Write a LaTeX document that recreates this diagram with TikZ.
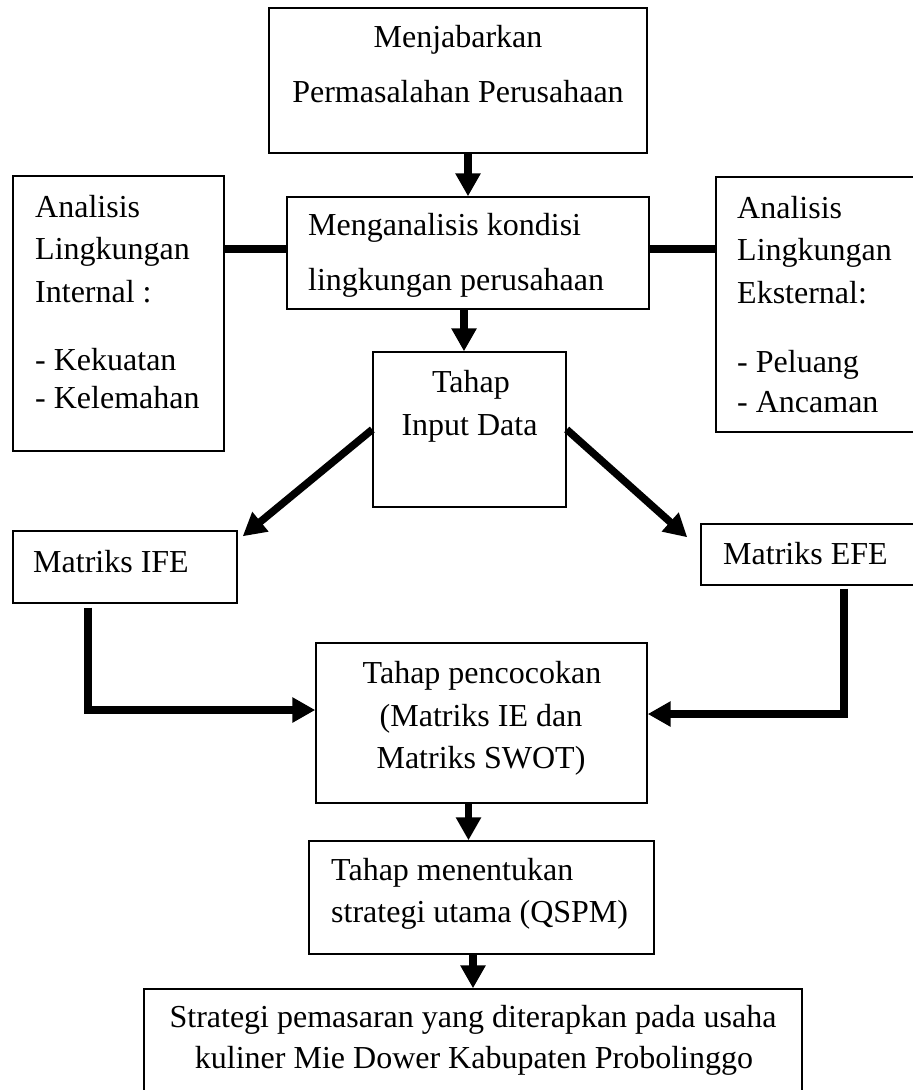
\documentclass[tikz,border=0pt]{standalone}
\usepackage{fontspec}
\setmainfont{Liberation Serif}
\usetikzlibrary{arrows.meta}
\begin{document}
\begin{tikzpicture}[x=1pt,y=-1pt,
  box/.style={draw=black, line width=1.4pt, rectangle, inner sep=0pt, fill=none},
  txt/.style={font=\fontsize{32}{38}\selectfont, inner sep=0pt},
  link/.style={line width=8pt},
  flowarrow/.style={line width=7.5pt, line join=miter, -{Triangle[width=24pt,length=23pt]}}]
\useasboundingbox (0,0) rectangle (913,1090);
\clip (0,0) rectangle (913,1090);
% boxes
\node[box, minimum width=378pt, minimum height=145pt] (top) at (458,80.5) {};
\node[box, minimum width=362pt, minimum height=112pt] (mid) at (468,253) {};
\node[box, minimum width=211pt, minimum height=275pt] (intl) at (118.5,313.5) {};
\node[box, minimum width=204pt, minimum height=255pt] (extl) at (818,304.5) {};
\node[box, minimum width=193pt, minimum height=155pt] (input) at (469.5,429.5) {};
\node[box, minimum width=224pt, minimum height=72pt] (ife) at (125,567) {};
\node[box, minimum width=219pt, minimum height=61pt] (efe) at (810.5,554.5) {};
\node[box, minimum width=331pt, minimum height=160pt] (match) at (481.5,723) {};
\node[box, minimum width=345pt, minimum height=113pt] (qspm) at (481.5,897.5) {};
\node[box, minimum width=658pt, minimum height=111pt] (final) at (473,1044.5) {};
% texts
\node[txt, anchor=base] (topA) at (458,47) {Menjabarkan};
\node[txt, anchor=base] (topB) at (458,102) {Permasalahan Perusahaan};
\node[txt, anchor=base west] (midA) at (308,235) {Menganalisis kondisi};
\node[txt, anchor=base west] (midB) at (308,290) {lingkungan perusahaan};
\node[txt, anchor=base west] (inA) at (35,217) {Analisis};
\node[txt, anchor=base west] (inB) at (35,259) {Lingkungan};
\node[txt, anchor=base west] (inC) at (35,302) {Internal :};
\node[txt, anchor=base west] (inD) at (35,370) {- Kekuatan};
\node[txt, anchor=base west] (inE) at (35,408) {- Kelemahan};
\node[txt, anchor=base west] (exA) at (737,218) {Analisis};
\node[txt, anchor=base west] (exB) at (737,260) {Lingkungan};
\node[txt, anchor=base west] (exC) at (737,303) {Eksternal:};
\node[txt, anchor=base west] (exD) at (737,372) {- Peluang};
\node[txt, anchor=base west] (exE) at (737,412) {- Ancaman};
\node[txt, anchor=base] (ipA) at (471,392) {Tahap};
\node[txt, anchor=base] (ipB) at (469.5,435) {Input Data};
\node[txt, anchor=base west] (ifeT) at (33,572) {Matriks IFE};
\node[txt, anchor=base west] (efeT) at (723,564) {Matriks EFE};
\node[txt, anchor=base] (mA) at (482,683) {Tahap pencocokan};
\node[txt, anchor=base] (mB) at (481,726) {(Matriks IE dan};
\node[txt, anchor=base] (mC) at (481,768) {Matriks SWOT)};
\node[txt, anchor=base west] (qA) at (331,880) {Tahap menentukan};
\node[txt, anchor=base west] (qB) at (331,922) {strategi utama (QSPM)};
\node[txt, anchor=base] (fA) at (473,1027) {Strategi pemasaran yang diterapkan pada usaha};
\node[txt, anchor=base] (fB) at (474,1068) {kuliner Mie Dower Kabupaten Probolinggo};
% connectors
\draw[flowarrow] (mid.north |- top.south) -- (mid.north);
\draw[flowarrow] ([xshift=-4pt]mid.south) -- ([xshift=-4pt]mid.south |- input.north);
\draw[link] ([yshift=4pt]mid.west) -- ([yshift=4pt]mid.west -| intl.east);
\draw[link] ([yshift=4pt]mid.east) -- ([yshift=4pt]mid.east -| extl.west);
\draw[flowarrow] (input.west) -- ([xshift=5pt,yshift=-6pt]ife.north east);
\draw[flowarrow] (input.east) -- ([xshift=-13pt,yshift=-14pt]efe.north west);
\draw[flowarrow] ([xshift=-37pt,yshift=-4pt]ife.south) |- ([yshift=13pt]match.west);
\draw[flowarrow] ([xshift=33.5pt,yshift=-3pt]efe.south) |- ([yshift=9pt]match.east);
\draw[flowarrow] ([xshift=-13pt]match.south) -- ([xshift=-13pt]qspm.north);
\draw[flowarrow] (qspm.south -| final.north) -- (final.north);
\end{tikzpicture}
\end{document}
